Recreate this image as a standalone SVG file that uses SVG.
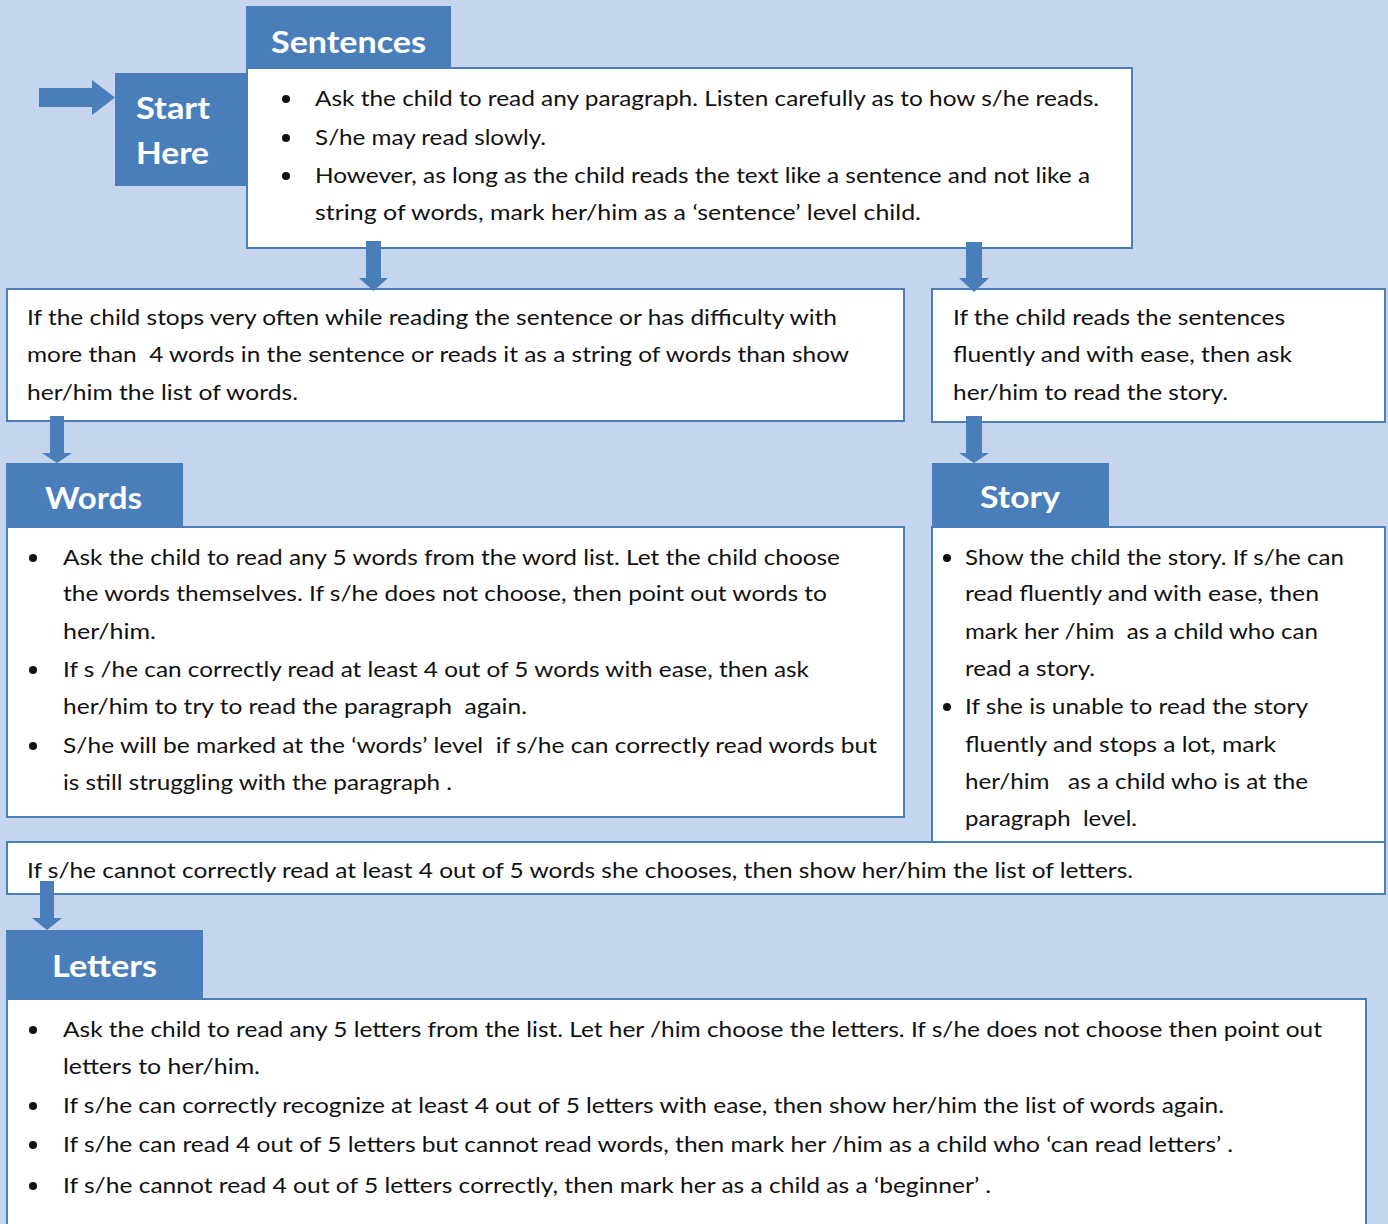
<svg xmlns="http://www.w3.org/2000/svg" width="1388" height="1224" viewBox="0 0 1388 1224">
<style>
.bg{fill:#C6D5EE}
.box{fill:#FFFFFF;stroke:#4A7EBB;stroke-width:2}
.tab{fill:#4A7EBB}
.arrow{fill:#4A7EBB}
.t{font-family:Lato,"Open Sans","Liberation Sans",sans-serif;font-size:22px;fill:#111111;white-space:pre}
.h{font-family:Lato,"Open Sans","Liberation Sans",sans-serif;font-size:31px;font-weight:bold;fill:#FFFFFF}
.b{fill:#111111}
</style>
<rect class="bg" x="0" y="0" width="1388" height="1224"/>

<g id="start-here">
<rect class="tab" x="115" y="73" width="131" height="113"/>
<text class="h" x="136" y="119" textLength="74" lengthAdjust="spacingAndGlyphs">Start</text>
<text class="h" x="136" y="164" textLength="73" lengthAdjust="spacingAndGlyphs">Here</text>
</g>

<g id="sentences">
<rect class="box" x="247" y="68" width="885" height="180"/>
<rect class="tab" x="246" y="6" width="205" height="62"/>
<text class="h" x="271" y="53" textLength="155" lengthAdjust="spacingAndGlyphs">Sentences</text>
<circle class="b" cx="286" cy="99" r="4"/>
<circle class="b" cx="286" cy="138" r="4"/>
<circle class="b" cx="286" cy="176" r="4"/>
<text class="t" x="315" y="106" textLength="784" lengthAdjust="spacingAndGlyphs">Ask the child to read any paragraph. Listen carefully as to how s/he reads.</text>
<text class="t" x="315" y="145" textLength="231" lengthAdjust="spacingAndGlyphs">S/he may read slowly.</text>
<text class="t" x="315" y="183" textLength="775" lengthAdjust="spacingAndGlyphs">However, as long as the child reads the text like a sentence and not like a</text>
<text class="t" x="315" y="220" textLength="606" lengthAdjust="spacingAndGlyphs">string of words, mark her/him as a ‘sentence’ level child.</text>
</g>

<g id="stops-often">
<rect class="box" x="7" y="289" width="897" height="132"/>
<text class="t" x="27" y="325" textLength="810" lengthAdjust="spacingAndGlyphs">If the child stops very often while reading the sentence or has difficulty with</text>
<text class="t" x="27" y="362" textLength="822" lengthAdjust="spacingAndGlyphs">more than  4 words in the sentence or reads it as a string of words than show</text>
<text class="t" x="27" y="400" textLength="271" lengthAdjust="spacingAndGlyphs">her/him the list of words.</text>
</g>

<g id="reads-fluently">
<rect class="box" x="932" y="289" width="453" height="133"/>
<text class="t" x="953" y="325" textLength="332" lengthAdjust="spacingAndGlyphs">If the child reads the sentences</text>
<text class="t" x="953" y="362" textLength="339" lengthAdjust="spacingAndGlyphs">fluently and with ease, then ask</text>
<text class="t" x="953" y="400" textLength="275" lengthAdjust="spacingAndGlyphs">her/him to read the story.</text>
</g>

<g id="words">
<rect class="box" x="7" y="527" width="897" height="290"/>
<rect class="tab" x="6" y="463" width="177" height="64"/>
<text class="h" x="45" y="509" textLength="97" lengthAdjust="spacingAndGlyphs">Words</text>
<circle class="b" cx="33" cy="558" r="4"/>
<circle class="b" cx="33" cy="670" r="4"/>
<circle class="b" cx="33" cy="746" r="4"/>
<text class="t" x="63" y="565" textLength="777" lengthAdjust="spacingAndGlyphs">Ask the child to read any 5 words from the word list. Let the child choose</text>
<text class="t" x="63" y="601" textLength="764" lengthAdjust="spacingAndGlyphs">the words themselves. If s/he does not choose, then point out words to</text>
<text class="t" x="63" y="639" textLength="93" lengthAdjust="spacingAndGlyphs">her/him.</text>
<text class="t" x="63" y="677" textLength="746" lengthAdjust="spacingAndGlyphs">If s /he can correctly read at least 4 out of 5 words with ease, then ask</text>
<text class="t" x="63" y="714" textLength="464" lengthAdjust="spacingAndGlyphs">her/him to try to read the paragraph  again.</text>
<text class="t" x="63" y="753" textLength="814" lengthAdjust="spacingAndGlyphs">S/he will be marked at the ‘words’ level  if s/he can correctly read words but</text>
<text class="t" x="63" y="790" textLength="389" lengthAdjust="spacingAndGlyphs">is still struggling with the paragraph .</text>
</g>

<g id="story">
<rect class="box" x="932" y="527" width="453" height="315"/>
<rect class="tab" x="932" y="463" width="177" height="64"/>
<text class="h" x="980" y="508" textLength="80" lengthAdjust="spacingAndGlyphs">Story</text>
<circle class="b" cx="947" cy="558" r="4"/>
<circle class="b" cx="947" cy="707" r="4"/>
<text class="t" x="965" y="565" textLength="379" lengthAdjust="spacingAndGlyphs">Show the child the story. If s/he can</text>
<text class="t" x="965" y="601" textLength="354" lengthAdjust="spacingAndGlyphs">read fluently and with ease, then</text>
<text class="t" x="965" y="639" textLength="353" lengthAdjust="spacingAndGlyphs">mark her /him  as a child who can</text>
<text class="t" x="965" y="676" textLength="130" lengthAdjust="spacingAndGlyphs">read a story.</text>
<text class="t" x="965" y="714" textLength="343" lengthAdjust="spacingAndGlyphs">If she is unable to read the story</text>
<text class="t" x="965" y="752" textLength="311" lengthAdjust="spacingAndGlyphs">fluently and stops a lot, mark</text>
<text class="t" x="965" y="789" textLength="343" lengthAdjust="spacingAndGlyphs">her/him   as a child who is at the</text>
<text class="t" x="965" y="826" textLength="172" lengthAdjust="spacingAndGlyphs">paragraph  level.</text>
</g>

<g id="cannot-read">
<rect class="box" x="7" y="842" width="1378" height="52"/>
<text class="t" x="27" y="878" textLength="1106" lengthAdjust="spacingAndGlyphs">If s/he cannot correctly read at least 4 out of 5 words she chooses, then show her/him the list of letters.</text>
</g>

<g id="letters">
<rect class="box" x="7" y="999" width="1359" height="240"/>
<rect class="tab" x="6" y="930" width="197" height="69"/>
<text class="h" x="52" y="977" textLength="105" lengthAdjust="spacingAndGlyphs">Letters</text>
<circle class="b" cx="33" cy="1030" r="4"/>
<circle class="b" cx="33" cy="1106" r="4"/>
<circle class="b" cx="33" cy="1145" r="4"/>
<circle class="b" cx="33" cy="1186" r="4"/>
<text class="t" x="63" y="1037" textLength="1259" lengthAdjust="spacingAndGlyphs">Ask the child to read any 5 letters from the list. Let her /him choose the letters. If s/he does not choose then point out</text>
<text class="t" x="63" y="1074" textLength="197" lengthAdjust="spacingAndGlyphs">letters to her/him.</text>
<text class="t" x="63" y="1113" textLength="1161" lengthAdjust="spacingAndGlyphs">If s/he can correctly recognize at least 4 out of 5 letters with ease, then show her/him the list of words again.</text>
<text class="t" x="63" y="1152" textLength="1170" lengthAdjust="spacingAndGlyphs">If s/he can read 4 out of 5 letters but cannot read words, then mark her /him as a child who ‘can read letters’ .</text>
<text class="t" x="63" y="1193" textLength="928" lengthAdjust="spacingAndGlyphs">If s/he cannot read 4 out of 5 letters correctly, then mark her as a child as a ‘beginner’ .</text>
</g>

<g id="connectors">
<polygon class="arrow" points="39,88 92,88 92,80 115,97.5 92,115 92,107 39,107"/>
<polygon class="arrow" points="366,241 381,241 381,278 388,278 373.5,291 359,278 366,278"/>
<polygon class="arrow" points="966,242 982,242 982,278 989,278 974,292 959,278 966,278"/>
<polygon class="arrow" points="50,416 64,416 64,453 72,453 57,463 42,453 50,453"/>
<polygon class="arrow" points="966,416 982,416 982,453 989,453 974,463 959,453 966,453"/>
<polygon class="arrow" points="40,881 54,881 54,918 62,918 47,930 32,918 40,918"/>
</g>
</svg>
